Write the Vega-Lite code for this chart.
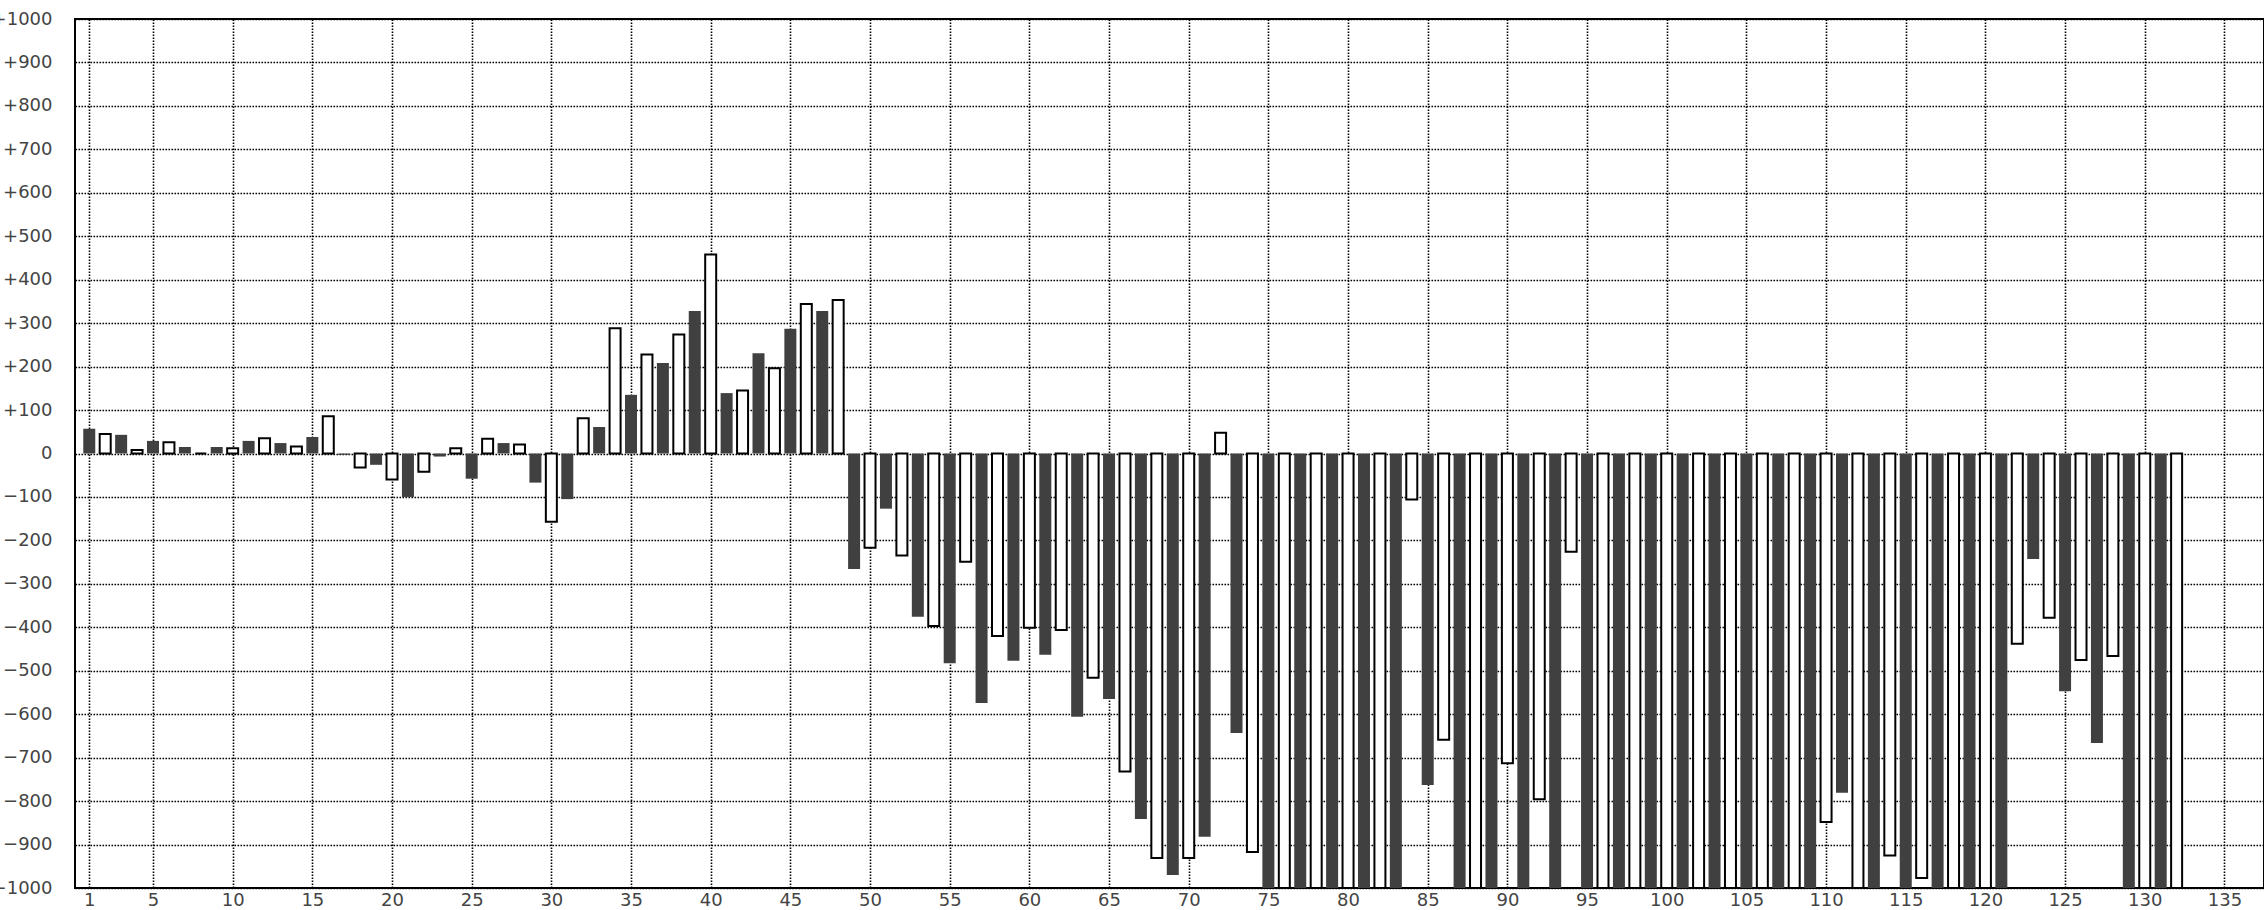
{
  "$schema": "https://vega.github.io/schema/vega-lite/v6.json",
  "width": 2189,
  "height": 869,
  "autosize": {"type": "none"},
  "padding": {"left": 75, "top": 19, "right": 0, "bottom": 22},
  "background": "white",
  "config": {
    "view": {"stroke": "black", "strokeWidth": 2},
    "axis": {
      "labelFont": "DejaVu Sans",
      "labelFontSize": 18,
      "labelColor": "#444444",
      "ticks": false,
      "domain": false,
      "grid": true,
      "gridColor": "black",
      "gridDash": [1.6, 1.4],
      "gridWidth": 1.6,
      "gridOpacity": 1,
      "labelFlush": false,
      "labelOverlap": false,
      "labelBound": false
    }
  },
  "data": {
    "values": [
      {"n": 1, "v": 57, "s": "A"}, {"n": 2, "v": 45, "s": "B"}, {"n": 3, "v": 43, "s": "A"}, {"n": 4, "v": 8, "s": "B"},
      {"n": 5, "v": 29, "s": "A"}, {"n": 6, "v": 26, "s": "B"}, {"n": 7, "v": 15, "s": "A"}, {"n": 8, "v": 0, "s": "B"},
      {"n": 9, "v": 15, "s": "A"}, {"n": 10, "v": 12, "s": "B"}, {"n": 11, "v": 29, "s": "A"}, {"n": 12, "v": 35, "s": "B"},
      {"n": 13, "v": 24, "s": "A"}, {"n": 14, "v": 16, "s": "B"}, {"n": 15, "v": 38, "s": "A"}, {"n": 16, "v": 86, "s": "B"},
      {"n": 17, "v": -3, "s": "A"}, {"n": 18, "v": -32, "s": "B"}, {"n": 19, "v": -26, "s": "A"}, {"n": 20, "v": -60, "s": "B"},
      {"n": 21, "v": -100, "s": "A"}, {"n": 22, "v": -42, "s": "B"}, {"n": 23, "v": -7, "s": "A"}, {"n": 24, "v": 12, "s": "B"},
      {"n": 25, "v": -58, "s": "A"}, {"n": 26, "v": 34, "s": "B"}, {"n": 27, "v": 24, "s": "A"}, {"n": 28, "v": 21, "s": "B"},
      {"n": 29, "v": -67, "s": "A"}, {"n": 30, "v": -157, "s": "B"}, {"n": 31, "v": -105, "s": "A"}, {"n": 32, "v": 81, "s": "B"},
      {"n": 33, "v": 61, "s": "A"}, {"n": 34, "v": 288, "s": "B"}, {"n": 35, "v": 135, "s": "A"}, {"n": 36, "v": 228, "s": "B"},
      {"n": 37, "v": 208, "s": "A"}, {"n": 38, "v": 274, "s": "B"}, {"n": 39, "v": 328, "s": "A"}, {"n": 40, "v": 458, "s": "B"},
      {"n": 41, "v": 139, "s": "A"}, {"n": 42, "v": 145, "s": "B"}, {"n": 43, "v": 231, "s": "A"}, {"n": 44, "v": 196, "s": "B"},
      {"n": 45, "v": 287, "s": "A"}, {"n": 46, "v": 344, "s": "B"}, {"n": 47, "v": 328, "s": "A"}, {"n": 48, "v": 353, "s": "B"},
      {"n": 49, "v": -266, "s": "A"}, {"n": 50, "v": -217, "s": "B"}, {"n": 51, "v": -127, "s": "A"}, {"n": 52, "v": -235, "s": "B"},
      {"n": 53, "v": -376, "s": "A"}, {"n": 54, "v": -397, "s": "B"}, {"n": 55, "v": -483, "s": "A"}, {"n": 56, "v": -249, "s": "B"},
      {"n": 57, "v": -574, "s": "A"}, {"n": 58, "v": -420, "s": "B"}, {"n": 59, "v": -477, "s": "A"}, {"n": 60, "v": -401, "s": "B"},
      {"n": 61, "v": -463, "s": "A"}, {"n": 62, "v": -406, "s": "B"}, {"n": 63, "v": -606, "s": "A"}, {"n": 64, "v": -516, "s": "B"},
      {"n": 65, "v": -565, "s": "A"}, {"n": 66, "v": -732, "s": "B"}, {"n": 67, "v": -841, "s": "A"}, {"n": 68, "v": -931, "s": "B"},
      {"n": 69, "v": -970, "s": "A"}, {"n": 70, "v": -931, "s": "B"}, {"n": 71, "v": -882, "s": "A"}, {"n": 72, "v": 48, "s": "B"},
      {"n": 73, "v": -643, "s": "A"}, {"n": 74, "v": -917, "s": "B"}, {"n": 75, "v": -1000, "s": "A"}, {"n": 76, "v": -1000, "s": "B"},
      {"n": 77, "v": -1000, "s": "A"}, {"n": 78, "v": -1000, "s": "B"}, {"n": 79, "v": -1000, "s": "A"}, {"n": 80, "v": -1000, "s": "B"},
      {"n": 81, "v": -1000, "s": "A"}, {"n": 82, "v": -1000, "s": "B"}, {"n": 83, "v": -1000, "s": "A"}, {"n": 84, "v": -106, "s": "B"},
      {"n": 85, "v": -763, "s": "A"}, {"n": 86, "v": -659, "s": "B"}, {"n": 87, "v": -1000, "s": "A"}, {"n": 88, "v": -1000, "s": "B"},
      {"n": 89, "v": -1000, "s": "A"}, {"n": 90, "v": -713, "s": "B"}, {"n": 91, "v": -1000, "s": "A"}, {"n": 92, "v": -796, "s": "B"},
      {"n": 93, "v": -1000, "s": "A"}, {"n": 94, "v": -226, "s": "B"}, {"n": 95, "v": -1000, "s": "A"}, {"n": 96, "v": -1000, "s": "B"},
      {"n": 97, "v": -1000, "s": "A"}, {"n": 98, "v": -1000, "s": "B"}, {"n": 99, "v": -1000, "s": "A"}, {"n": 100, "v": -1000, "s": "B"},
      {"n": 101, "v": -1000, "s": "A"}, {"n": 102, "v": -1000, "s": "B"}, {"n": 103, "v": -1000, "s": "A"}, {"n": 104, "v": -1000, "s": "B"},
      {"n": 105, "v": -1000, "s": "A"}, {"n": 106, "v": -1000, "s": "B"}, {"n": 107, "v": -1000, "s": "A"}, {"n": 108, "v": -1000, "s": "B"},
      {"n": 109, "v": -1000, "s": "A"}, {"n": 110, "v": -848, "s": "B"}, {"n": 111, "v": -781, "s": "A"}, {"n": 112, "v": -1000, "s": "B"},
      {"n": 113, "v": -1000, "s": "A"}, {"n": 114, "v": -925, "s": "B"}, {"n": 115, "v": -1000, "s": "A"}, {"n": 116, "v": -977, "s": "B"},
      {"n": 117, "v": -1000, "s": "A"}, {"n": 118, "v": -1000, "s": "B"}, {"n": 119, "v": -1000, "s": "A"}, {"n": 120, "v": -1000, "s": "B"},
      {"n": 121, "v": -1000, "s": "A"}, {"n": 122, "v": -438, "s": "B"}, {"n": 123, "v": -243, "s": "A"}, {"n": 124, "v": -378, "s": "B"},
      {"n": 125, "v": -547, "s": "A"}, {"n": 126, "v": -475, "s": "B"}, {"n": 127, "v": -666, "s": "A"}, {"n": 128, "v": -466, "s": "B"},
      {"n": 129, "v": -1000, "s": "A"}, {"n": 130, "v": -1000, "s": "B"}, {"n": 131, "v": -1000, "s": "A"}, {"n": 132, "v": -1000, "s": "B"}
    ]
  },
  "encoding": {
    "x": {
      "field": "n",
      "type": "quantitative",
      "scale": {"domain": [0.4186, 137.17], "nice": false, "zero": false},
      "axis": {
        "title": null,
        "values": [1, 5, 10, 15, 20, 25, 30, 35, 40, 45, 50, 55, 60, 65, 70, 75, 80, 85, 90, 95, 100, 105, 110, 115, 120, 125, 130, 135],
        "format": "d",
        "labelPadding": 3
      }
    },
    "y": {
      "field": "v",
      "type": "quantitative",
      "scale": {"domain": [-1000, 1000], "nice": false},
      "axis": {
        "title": null,
        "values": [-1000, -900, -800, -700, -600, -500, -400, -300, -200, -100, 0, 100, 200, 300, 400, 500, 600, 700, 800, 900, 1000],
        "format": "d",
        "labelExpr": "datum.value > 0 ? '+' + datum.label : datum.label",
        "labelPadding": 23
      }
    }
  },
  "layer": [
    {
      "transform": [{"filter": "datum.s == 'A'"}],
      "mark": {"type": "bar", "size": 12, "fill": "#404040", "stroke": null, "clip": true}
    },
    {
      "transform": [{"filter": "datum.s == 'B'"}],
      "mark": {"type": "bar", "size": 11, "fill": "white", "stroke": "black", "strokeWidth": 2, "clip": true}
    },
    {
      "data": {"values": [{}]},
      "mark": {"type": "rule", "color": "black", "strokeWidth": 2},
      "encoding": {
        "x": {"value": 0},
        "x2": {"value": 2189},
        "y": {"datum": 0}
      }
    }
  ]
}
